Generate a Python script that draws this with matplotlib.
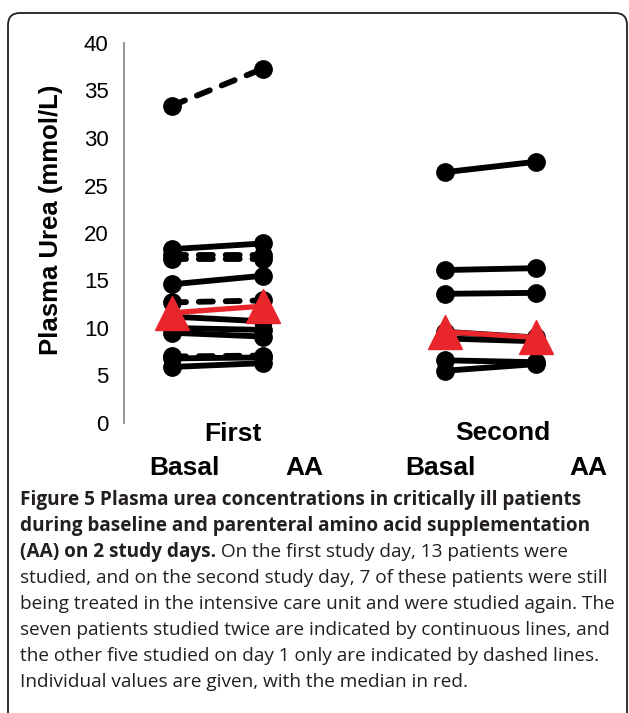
import matplotlib
matplotlib.use("Agg")
import matplotlib.pyplot as plt
from matplotlib.patches import FancyBboxPatch

# Plasma urea (mmol/L), individual patients
day1_basal_both = [18.3, 14.6, 11.2, 10.0, 9.5, 6.8, 5.9]
day1_aa_both = [18.9, 15.5, 10.7, 9.8, 9.1, 6.9, 6.3]
day1_basal_only = [33.4, 17.7, 17.3, 12.7, 7.0]
day1_aa_only = [37.3, 17.7, 17.3, 12.9, 7.1]
day2_basal = [26.4, 16.1, 13.6, 9.6, 8.9, 6.6, 5.5]
day2_aa = [27.5, 16.3, 13.7, 9.0, 8.6, 6.4, 6.2]
median_day1 = [11.6, 12.3]
median_day2 = [9.6, 9.0]

x_day1 = [1, 2]
x_day2 = [4, 5]
y_ticks = [0, 5, 10, 15, 20, 25, 30, 35, 40]
day_labels = ["First", "Second"]
phase_labels = ["Basal", "AA", "Basal", "AA"]

caption_bold = ["Figure 5 Plasma urea concentrations in critically ill patients",
                "during baseline and parenteral amino acid supplementation",
                "(AA) on 2 study days."]
caption_rest_line3 = " On the first study day, 13 patients were"
caption_lines = ["studied, and on the second study day, 7 of these patients were still",
                 "being treated in the intensive care unit and were studied again. The",
                 "seven patients studied twice are indicated by continuous lines, and",
                 "the other five studied on day 1 only are indicated by dashed lines.",
                 "Individual values are given, with the median in red."]

W, H = 629, 713
fig = plt.figure(figsize=(W / 100, H / 100), dpi=100)
fig.patch.set_facecolor("white")

# Plot area (pixel positions converted to figure fractions)
left, right, top, bottom = 124, 600, 43, 423
ax = fig.add_axes([left / W, 1 - bottom / H, (right - left) / W, (bottom - top) / H])
ax.set_ylim(0, 40)
ax.set_xlim(1 + (left - 172) / 91, 1 + (right - 172) / 91)
ax.set_facecolor("none")
for s in ["top", "right", "bottom"]:
    ax.spines[s].set_visible(False)
ax.spines["left"].set_color("#8c8c8c")
ax.spines["left"].set_linewidth(1.3)
ax.set_xticks([])
ax.set_yticks(y_ticks)
ax.tick_params(axis="y", length=0, pad=11, labelsize=16)
for lab in ax.get_yticklabels():
    lab.set_fontfamily("Liberation Sans")
ax.set_ylabel("Plasma Urea (mmol/L)", fontsize=18.5, fontweight="bold",
              fontfamily="Liberation Sans", labelpad=15)
ax.yaxis.label.set_y(0.535)

line_kw = dict(color="black", lw=4.2, marker="o", ms=12.5, solid_capstyle="round",
               dash_capstyle="round", zorder=2)
for b, a in zip(day1_basal_only, day1_aa_only):
    ax.plot(x_day1, [b, a], linestyle=(0, (2.4, 2.2)), **line_kw)
for b, a in zip(day1_basal_both, day1_aa_both):
    ax.plot(x_day1, [b, a], linestyle="-", **line_kw)
for b, a in zip(day2_basal, day2_aa):
    ax.plot(x_day2, [b, a], linestyle="-", **line_kw)

red = "#e8262b"
ax.plot(x_day1, median_day1, color=red, lw=3.8, marker="^", ms=25, zorder=5)
ax.plot(x_day2, median_day2, color=red, lw=3.8, marker="^", ms=25, zorder=5)

# Category labels under the axis
lab_kw = dict(fontsize=19, fontweight="bold", fontfamily="Liberation Sans",
              ha="center", va="center")
fig.text(233 / W, 1 - 434 / H, day_labels[0], **lab_kw)
fig.text(503 / W, 1 - 433 / H, day_labels[1], **lab_kw)
for xp, txt in zip([184, 304, 440, 588], phase_labels):
    fig.text(xp / W, 1 - 468 / H, txt, **lab_kw)

# Caption
cap_kw = dict(fontsize=13.7, fontfamily="Open Sans", va="baseline", ha="left",
              color="#231f20")
x0 = 20 / W
base = [505, 531, 557]
for yb, txt in zip(base, caption_bold):
    t = fig.text(x0, 1 - yb / H, txt, fontweight="bold", **cap_kw)
fig.canvas.draw()
r = fig.canvas.get_renderer()
bb = t.get_window_extent(r)
fig.text(bb.x1 / W, 1 - base[2] / H, caption_rest_line3, **cap_kw)
for i, txt in enumerate(caption_lines):
    fig.text(x0, 1 - (583 + 26 * i) / H, txt, **cap_kw)

# Rounded frame around figure and caption
frame = FancyBboxPatch((8, -20), 619, H - 13 + 20,
                       boxstyle="round,pad=0,rounding_size=12",
                       transform=None, facecolor="none", edgecolor="#231f20",
                       lw=1.3)
fig.patches.append(frame)

fig.savefig("out.png", dpi=100, facecolor="white")
